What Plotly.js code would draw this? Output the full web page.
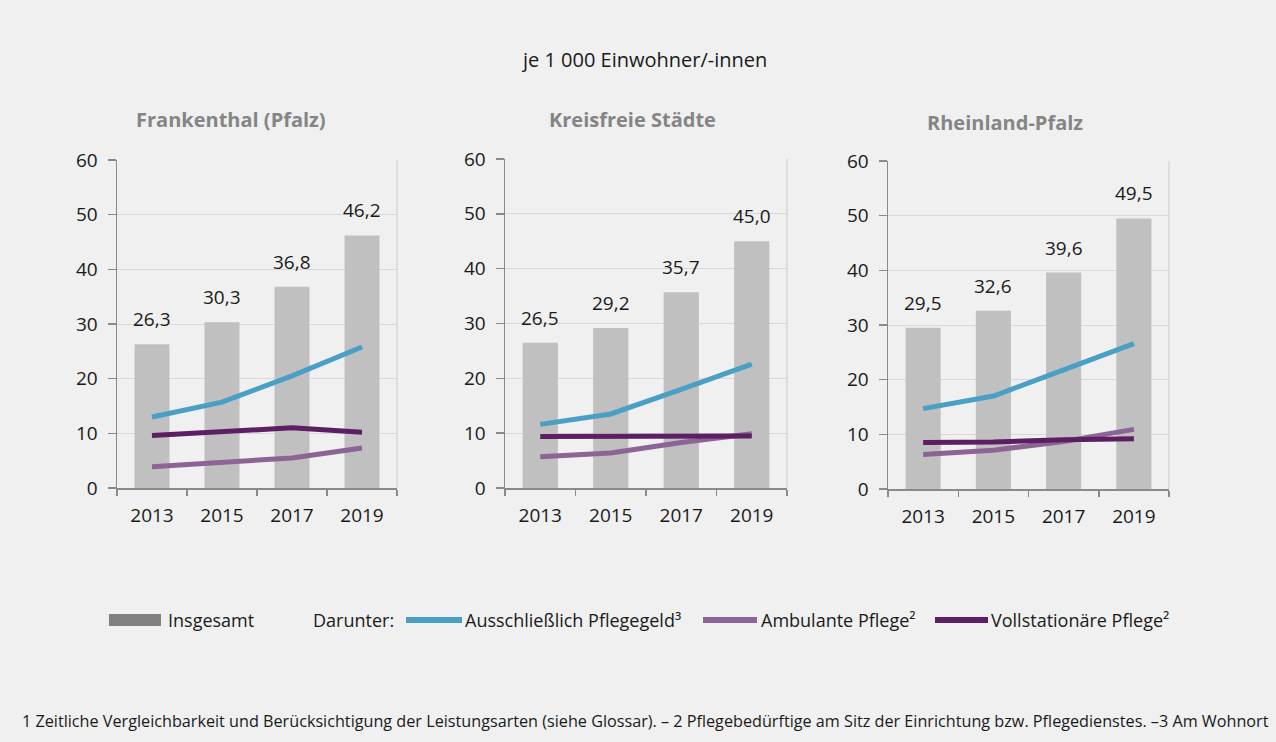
<!DOCTYPE html>
<html>
<head>
<meta charset="utf-8">
<script src="https://cdn.plot.ly/plotly-3.0.1.min.js"></script>
<style>
  html, body { margin: 0; padding: 0; background: #eff0ef; }
  #chart { width: 1276px; height: 742px; }
</style>
</head>
<body>
<div id="chart"></div>
<script>
// ---------- data ----------
const years = ['2013', '2015', '2017', '2019'];
const regions = ['Frankenthal (Pfalz)', 'Kreisfreie Städte', 'Rheinland-Pfalz'];

const insgesamtFrankenthal = [26.3, 30.3, 36.8, 46.2];
const insgesamtKreisfrei   = [26.5, 29.2, 35.7, 45.0];
const insgesamtRLP         = [29.5, 32.6, 39.6, 49.5];

const pflegegeldFrankenthal = [13.0, 15.7, 20.5, 25.8];
const pflegegeldKreisfrei   = [11.6, 13.5, 18.0, 22.6];
const pflegegeldRLP         = [14.7, 17.0, 21.8, 26.6];

const ambulantFrankenthal = [3.9, 4.8, 5.5, 7.3];
const ambulantKreisfrei   = [5.7, 6.4, 8.3, 9.9];
const ambulantRLP         = [6.3, 7.1, 8.7, 10.9];

const stationaerFrankenthal = [9.6, 10.2, 11.0, 10.2];
const stationaerKreisfrei   = [9.4, 9.4, 9.6, 9.5];
const stationaerRLP         = [8.5, 8.6, 9.0, 9.2];

const seriesNames = ['Insgesamt', 'Ausschließlich Pflegegeld³', 'Ambulante Pflege²', 'Vollstationäre Pflege²'];
const mainTitle = 'je 1 000 Einwohner/-innen';
const legendPrefix = 'Darunter:';
const footnote = '1 Zeitliche Vergleichbarkeit und Berücksichtigung der Leistungsarten (siehe Glossar). – 2 Pflegebedürftige am Sitz der Einrichtung bzw. Pflegedienstes. –3 Am Wohnort';

// ---------- styling ----------
const W = 1276, H = 742;
const px = x => x / W;
const py = y => 1 - y / H;
const FONT = 'Open Sans, Noto Sans, sans-serif';
const BG = '#eff0ef';
const BAR = '#c0c0c0';
const BLUE = '#4a9fc5';
const LILAC = '#8c6496';
const PLUM = '#5c1f63';
const GRID = '#d8d8d8';
const AXIS = '#8a8a8a';
const TXT = '#1a1a1a';

const totals = [insgesamtFrankenthal, insgesamtKreisfrei, insgesamtRLP];
const pflegegeld = [pflegegeldFrankenthal, pflegegeldKreisfrei, pflegegeldRLP];
const ambulant = [ambulantFrankenthal, ambulantKreisfrei, ambulantRLP];
const stationaer = [stationaerFrankenthal, stationaerKreisfrei, stationaerRLP];

// panel pixel boxes [left, right, top, bottom]
const boxes = [
  [117, 397, 160, 488],
  [505, 787, 159, 488],
  [888, 1169, 161, 489]
];
const titlePos = [[231, 120], [632, 120], [1005, 123]];

const traces = [];
const annotations = [];
const shapes = [];
const layout = {
  width: W, height: H,
  margin: {l: 0, r: 0, t: 0, b: 0},
  paper_bgcolor: BG, plot_bgcolor: BG,
  font: {family: FONT, size: 18, color: TXT},
  showlegend: false,
  bargap: 0.5,
  separators: ',.'
};

for (let i = 0; i < 3; i++) {
  const sx = i === 0 ? '' : String(i + 1);
  const xa = 'x' + sx, ya = 'y' + sx;
  const b = boxes[i];
  layout['xaxis' + sx] = {
    domain: [px(b[0]), px(b[1])],
    anchor: ya,
    type: 'category',
    categoryorder: 'array', categoryarray: years,
    range: [-0.5, years.length - 0.5],
    showgrid: false,
    showline: true, linecolor: AXIS, linewidth: 1.5,
    ticks: 'outside', tickson: 'boundaries', ticklen: 6, tickcolor: AXIS, tickwidth: 1.5,
    tickfont: {family: FONT, size: 19, color: TXT},
    tickangle: 0,
    ticklabelstandoff: 10,
    fixedrange: true
  };
  layout['yaxis' + sx] = {
    domain: [py(b[3]), py(b[2])],
    anchor: xa,
    range: [0, 60], dtick: 10,
    showgrid: true, gridcolor: GRID, gridwidth: 1,
    zeroline: false,
    showline: true, linecolor: AXIS, linewidth: 1.5,
    ticks: 'outside', ticklen: 8, tickcolor: AXIS, tickwidth: 1.5,
    tickfont: {family: FONT, size: 19, color: TXT},
    ticklabelstandoff: 6,
    fixedrange: true
  };

  traces.push({
    type: 'bar', x: years, y: totals[i], xaxis: xa, yaxis: ya,
    marker: {color: BAR}, name: seriesNames[0], hoverinfo: 'skip'
  });
  const lineSets = [[pflegegeld[i], BLUE, seriesNames[1]], [ambulant[i], LILAC, seriesNames[2]], [stationaer[i], PLUM, seriesNames[3]]];
  for (const [vals, col, nm] of lineSets) {
    traces.push({
      type: 'scatter', mode: 'lines', x: years, y: vals, xaxis: xa, yaxis: ya,
      line: {color: col, width: 5}, name: nm, hoverinfo: 'skip'
    });
  }
  totals[i].forEach((v, k) => {
    annotations.push({
      xref: xa, yref: ya, x: k, y: v,
      text: v.toFixed(1).replace('.', ','),
      showarrow: false, yanchor: 'bottom', yshift: 10,
      font: {family: FONT, size: 19, color: TXT}
    });
  });
  // right border line of plot area
  shapes.push({
    type: 'line', xref: xa + ' domain', yref: ya + ' domain',
    x0: 1, x1: 1, y0: 0, y1: 1, line: {color: GRID, width: 1.5}, layer: 'below'
  });
  annotations.push({
    xref: 'paper', yref: 'paper', x: px(titlePos[i][0]), y: py(titlePos[i][1]),
    text: '<b>' + regions[i] + '</b>', showarrow: false,
    xanchor: 'center', yanchor: 'middle',
    font: {family: FONT, size: 20, color: '#858585'}
  });
}

// main title
annotations.push({
  xref: 'paper', yref: 'paper', x: px(644), y: py(60),
  text: mainTitle, showarrow: false, xanchor: 'center', yanchor: 'middle',
  font: {family: FONT, size: 20, color: TXT}
});

// legend (manual)
const LY = 620;
const LF = {family: FONT, size: 18, color: TXT};
shapes.push({type: 'rect', xref: 'paper', yref: 'paper', x0: px(109), x1: px(161), y0: py(626), y1: py(614),
  fillcolor: '#808080', line: {width: 0}});
annotations.push({xref: 'paper', yref: 'paper', x: px(166), y: py(LY), text: seriesNames[0], showarrow: false,
  xanchor: 'left', yanchor: 'middle', font: LF});
annotations.push({xref: 'paper', yref: 'paper', x: px(311), y: py(LY), text: legendPrefix, showarrow: false,
  xanchor: 'left', yanchor: 'middle', font: LF});
const legLines = [[406, 462, 463, BLUE, seriesNames[1]], [703, 757, 759, LILAC, seriesNames[2]], [935, 988, 989, PLUM, seriesNames[3]]];
for (const [a, bb, t, col, nm] of legLines) {
  shapes.push({type: 'line', xref: 'paper', yref: 'paper', x0: px(a), x1: px(bb), y0: py(LY), y1: py(LY),
    line: {color: col, width: 6}});
  annotations.push({xref: 'paper', yref: 'paper', x: px(t), y: py(LY), text: nm, showarrow: false,
    xanchor: 'left', yanchor: 'middle', font: LF});
}

// footnote
annotations.push({
  xref: 'paper', yref: 'paper', x: px(20), y: py(721),
  text: footnote, showarrow: false, xanchor: 'left', yanchor: 'middle',
  font: {family: FONT, size: 16.2, color: TXT}
});

layout.annotations = annotations;
layout.shapes = shapes;

Plotly.newPlot('chart', traces, layout, {displayModeBar: false, staticPlot: true});
</script>
</body>
</html>
